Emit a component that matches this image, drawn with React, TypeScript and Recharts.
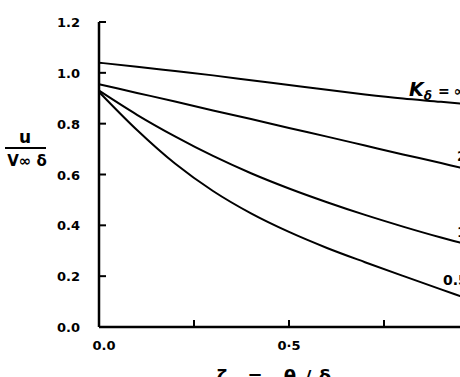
import { LineChart, Line, XAxis, YAxis, LabelList } from "recharts";

const xs = [0, 0.1, 0.2, 0.3, 0.4, 0.5, 0.6, 0.7, 0.8, 0.9, 0.95, 1.0];
const kInf = [1.04, 1.024, 1.007, 0.99, 0.971, 0.952, 0.933, 0.915, 0.899, 0.886, 0.879, 0.873];
const k2 = [0.955, 0.921, 0.887, 0.852, 0.818, 0.783, 0.749, 0.714, 0.679, 0.645, 0.627, 0.61];
const k1 = [0.93, 0.835, 0.75, 0.673, 0.605, 0.545, 0.491, 0.441, 0.395, 0.352, 0.332, 0.312];
const k05 = [0.925, 0.775, 0.643, 0.535, 0.447, 0.374, 0.311, 0.255, 0.201, 0.148, 0.122, 0.096];

const yTicks = [0, 0.2, 0.4, 0.6, 0.8, 1.0, 1.2];
const xTicks = [0, 0.25, 0.5, 0.75, 1.0];
const xLabels: Record<number, string> = { 0: "0.0", 0.5: "0·5", 1: "1.0" };

const data = xs.map((x, i) => ({ x, kInf: kInf[i], k2: k2[i], k1: k1[i], k05: k05[i] }));

const FONT = "'DejaVu Sans', sans-serif";
const LABEL_AT = 10;

const YTick = (props: any) => {
  const { x, y, payload } = props;
  return (
    <g>
      <line x1={x} y1={y} x2={x + 7} y2={y} stroke="#000" strokeWidth={2} />
      <text x={x - 19} y={y + 5} textAnchor="end" fontFamily={FONT} fontWeight="bold" fontSize={13} fill="#000">
        {payload.value.toFixed(1)}
      </text>
    </g>
  );
};

const XTick = (props: any) => {
  const { x, y, payload } = props;
  const v = payload.value;
  const lbl = xLabels[v];
  return (
    <g>
      {v > 0 && <line x1={x} y1={y} x2={x} y2={y - 7} stroke="#000" strokeWidth={2} />}
      {lbl && (
        <text x={x + (v === 0 ? 5 : 0)} y={y + 23} textAnchor="middle" fontFamily={FONT} fontWeight="bold" fontSize={13} fill="#000">
          {lbl}
        </text>
      )}
    </g>
  );
};

const YLabel = () => (
  <g fontFamily={FONT} fontWeight="bold" fill="#000">
    <text x={25} y={143} textAnchor="middle" fontSize={17}>u</text>
    <line x1={5} y1={148} x2={46} y2={148} stroke="#000" strokeWidth={2} />
    <text x={27} y={166} textAnchor="middle" fontSize={15}>V∞ δ</text>
  </g>
);

// axis title sits partly below the bottom edge, as in the scanned figure
const XLabel = () => (
  <g fontFamily={FONT} fontWeight="bold" fontSize={18} fill="#000">
    <text x={222} y={383} textAnchor="middle">ζ</text>
    <text x={255} y={383} textAnchor="middle">=</text>
    <text x={290} y={383} textAnchor="middle">θ</text>
    <text x={308} y={383} textAnchor="middle">/</text>
    <text x={325} y={383} textAnchor="middle">δ</text>
  </g>
);

const endLabel = (content: any, dx: number, dy: number, size = 14) => (props: any) => {
  if (props.index !== LABEL_AT) return null;
  return (
    <text x={props.x + dx} y={props.y + dy} fontFamily={FONT} fontWeight="bold" fontSize={size} fill="#000">
      {content}
    </text>
  );
};

const kLabel = (
  <>
    <tspan fontStyle="italic" fontSize={19}>K</tspan>
    <tspan fontStyle="italic" fontSize={12} dy={4}>δ</tspan>
    <tspan dy={-4} dx={6}>=</tspan>
    <tspan dx={4}>∞</tspan>
  </>
);

export default function App() {
  return (
    <div style={{ position: "fixed", left: 0, top: 0, width: 460, height: 377, overflow: "hidden", background: "#fff" }}>
      <LineChart width={500} height={377} data={data} margin={{ top: 22, right: 21, bottom: 0, left: 0 }}>
        <XAxis
          dataKey="x"
          type="number"
          domain={[0, 1]}
          ticks={xTicks}
          height={50}
          tickSize={0}
          tickMargin={0}
          tick={<XTick />}
          axisLine={{ stroke: "#000", strokeWidth: 2.5 }}
          label={<XLabel />}
        />
        <YAxis
          type="number"
          domain={[0, 1.2]}
          ticks={yTicks}
          width={99}
          tickSize={0}
          tickMargin={0}
          tick={<YTick />}
          axisLine={{ stroke: "#000", strokeWidth: 2.5 }}
          label={<YLabel />}
        />
        <Line dataKey="kInf" type="monotone" stroke="#000" strokeWidth={2} dot={false} isAnimationActive={false}>
          <LabelList dataKey="kInf" content={endLabel(kLabel, -51, -8)} />
        </Line>
        <Line dataKey="k2" type="monotone" stroke="#000" strokeWidth={2} dot={false} isAnimationActive={false}>
          <LabelList dataKey="k2" content={endLabel("2", -3, -7)} />
        </Line>
        <Line dataKey="k1" type="monotone" stroke="#000" strokeWidth={2} dot={false} isAnimationActive={false}>
          <LabelList dataKey="k1" content={endLabel("1", -3, -6)} />
        </Line>
        <Line dataKey="k05" type="monotone" stroke="#000" strokeWidth={2} dot={false} isAnimationActive={false}>
          <LabelList dataKey="k05" content={endLabel("0.5", -17, -11)} />
        </Line>
      </LineChart>
    </div>
  );
}
